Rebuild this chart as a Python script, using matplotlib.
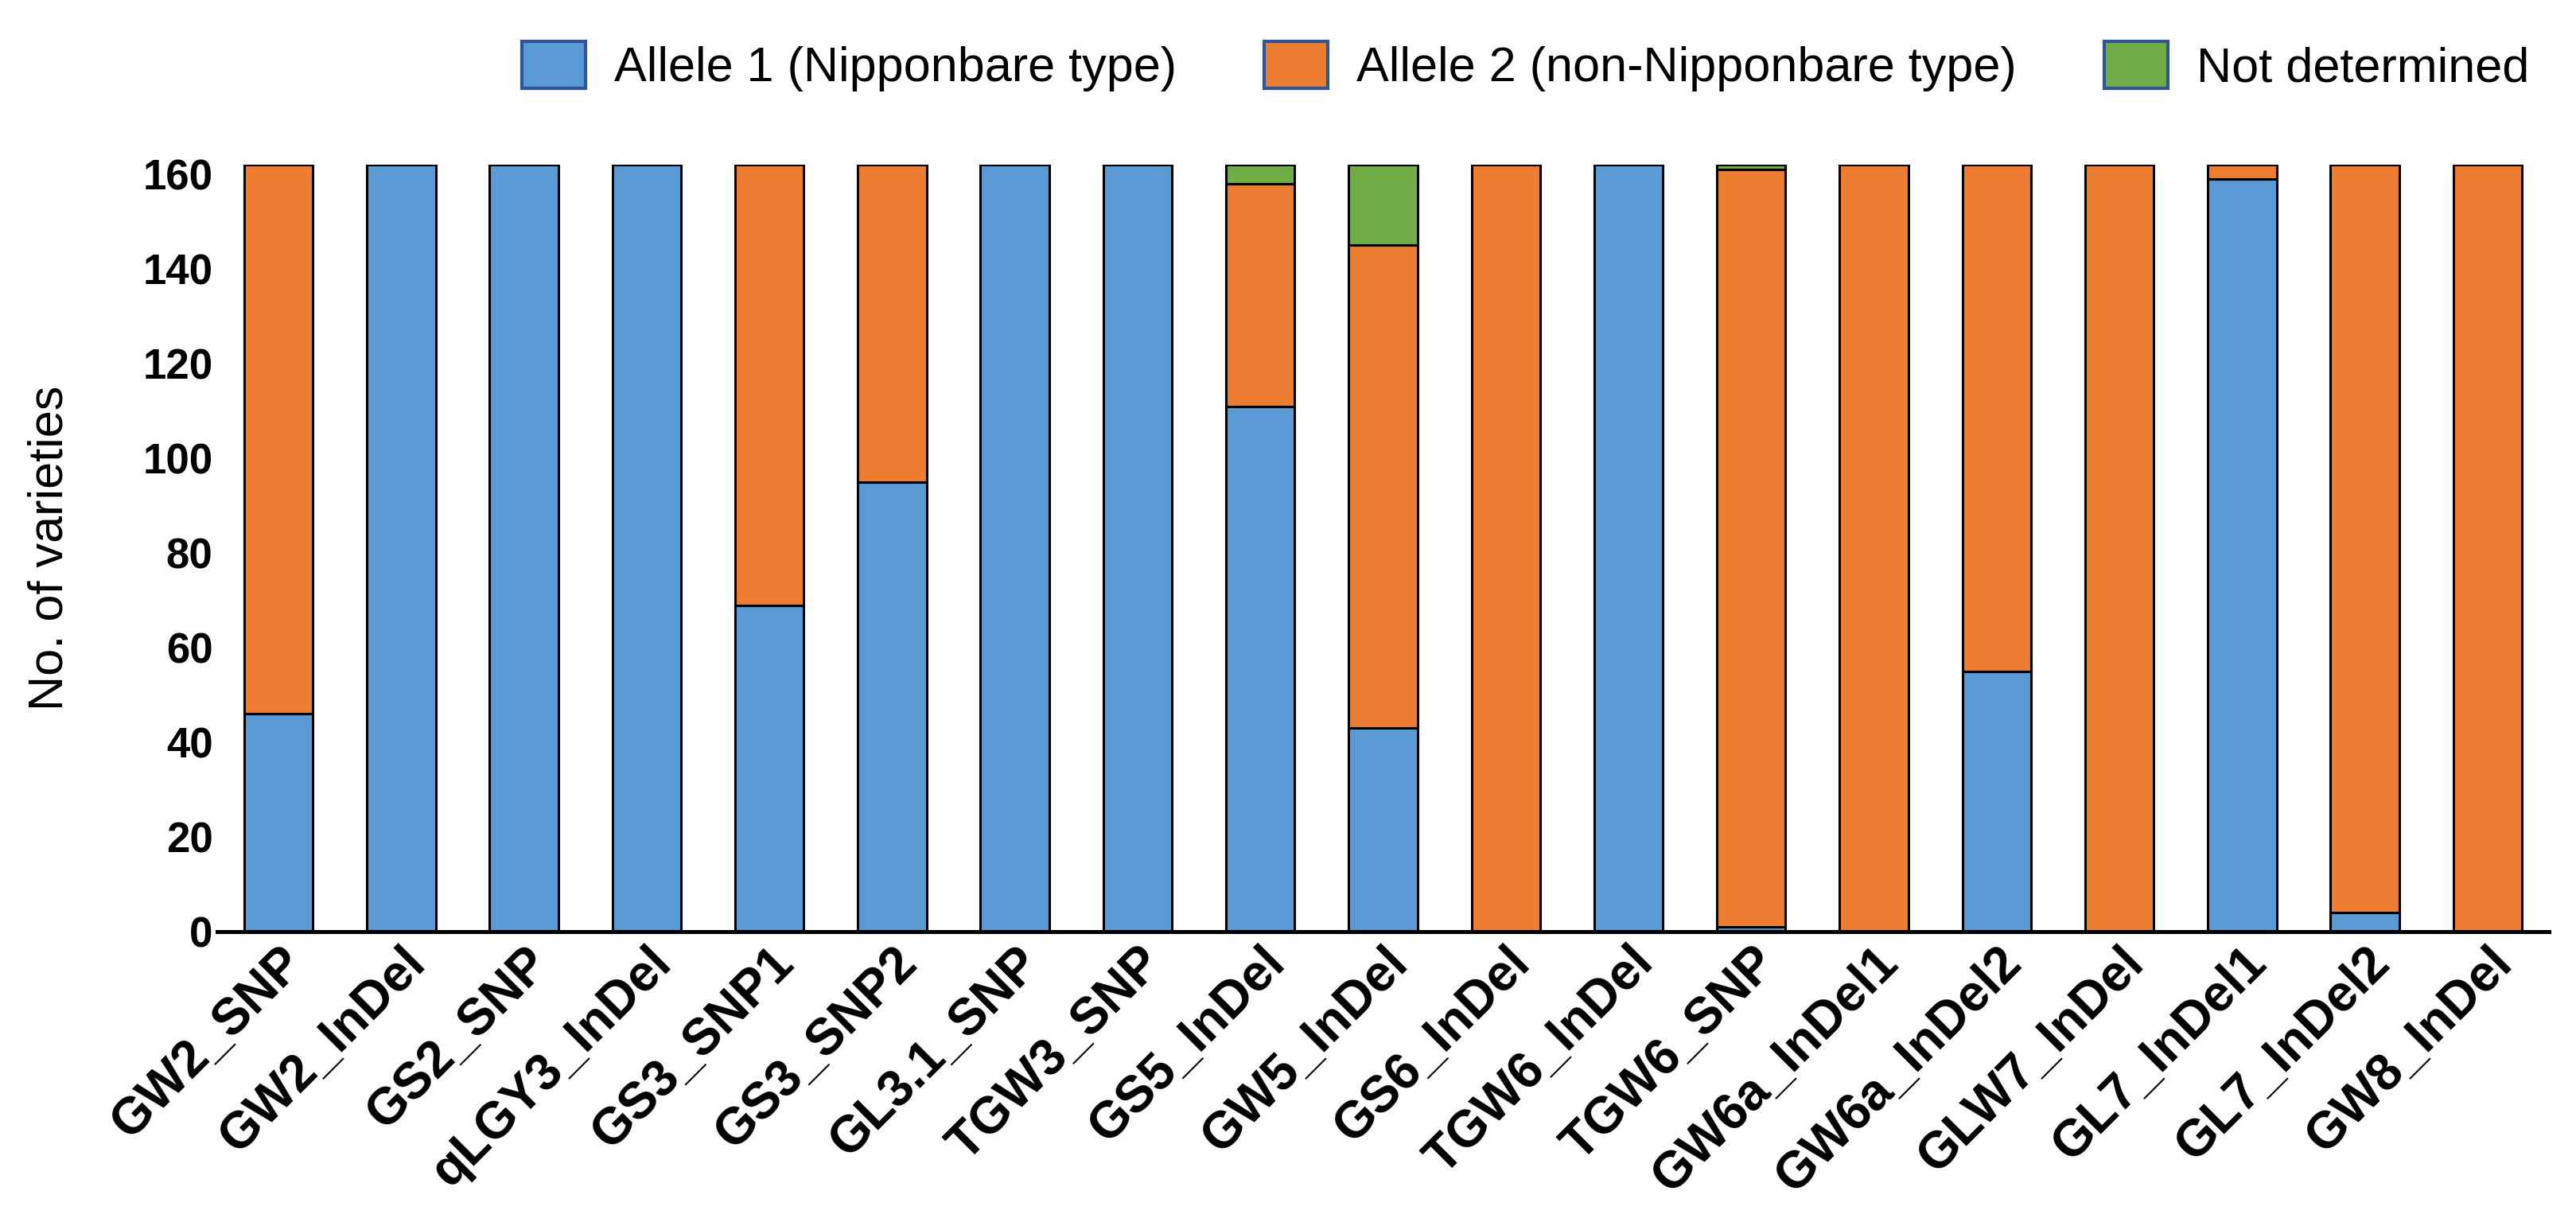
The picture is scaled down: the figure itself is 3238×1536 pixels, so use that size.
import matplotlib.pyplot as plt
import numpy as np

plt.rcParams["font.family"] = ["Liberation Sans", "DejaVu Sans"]

markers = ["GW2_SNP", "GW2_InDel", "GS2_SNP", "qLGY3_InDel", "GS3_SNP1", "GS3_SNP2",
           "GL3.1_SNP", "TGW3_SNP", "GS5_InDel", "GW5_InDel", "GS6_InDel", "TGW6_InDel",
           "TGW6_SNP", "GW6a_InDel1", "GW6a_InDel2", "GLW7_InDel", "GL7_InDel1",
           "GL7_InDel2", "GW8_InDel"]
total = 162
allele1 = np.array([46, 162, 162, 162, 69, 95, 162, 162, 111, 43, 0, 162, 1, 0, 55, 0, 159, 4, 0])
not_det = np.array([0, 0, 0, 0, 0, 0, 0, 0, 4, 17, 0, 0, 1, 0, 0, 0, 0, 0, 0])
allele2 = total - allele1 - not_det

fig = plt.figure(figsize=(16.19, 7.68), dpi=200)
ax = fig.add_axes([0.0843, 0.2376, 0.9052, 0.6274])

x = np.arange(len(markers))
w = 0.56
kw = dict(width=w, edgecolor="black", linewidth=1.1)
ax.bar(x, allele1, color="#5B9BD5", label="Allele 1 (Nipponbare type)", **kw)
ax.bar(x, allele2, bottom=allele1, color="#ED7D31", label="Allele 2 (non-Nipponbare type)", **kw)
ax.bar(x, not_det, bottom=allele1 + allele2, color="#70AD47", label="Not determined", **kw)

ax.set_xlim(-0.5, len(markers) - 0.5)
ax.set_ylim(0, 162)
ax.set_yticks(range(0, 161, 20))
ax.set_xticks(x)
ax.set_xticklabels(markers, rotation=45, ha="right", va="top", rotation_mode="anchor",
                   fontsize=23, fontweight="bold")
ax.tick_params(axis="y", length=0, labelsize=19, pad=2)
ax.tick_params(axis="x", length=0, pad=3)
for t in ax.get_yticklabels():
    t.set_fontweight("bold")
ax.set_ylabel("No. of varieties", fontsize=22)
ax.yaxis.set_label_coords(-0.062, 0.5)

for s in ["top", "right", "left"]:
    ax.spines[s].set_visible(False)
ax.spines["bottom"].set_linewidth(1.8)

leg = ax.legend(loc="lower right", bbox_to_anchor=(1.0, 1.07), ncol=3, frameon=False,
                fontsize=22, handlelength=1.3, handleheight=1.1, columnspacing=1.8,
                handletextpad=0.6, borderaxespad=0)
for h in leg.legend_handles:
    h.set_edgecolor("#2F5597")
    h.set_linewidth(1.5)

fig.savefig("out.png", dpi=200)
